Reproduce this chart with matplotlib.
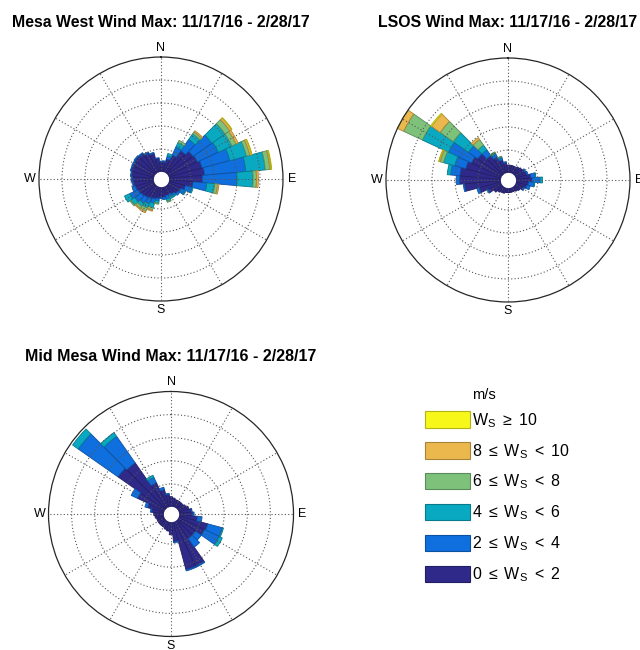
import matplotlib

matplotlib.use("Agg")

import matplotlib.pyplot as plt
import numpy as np
from matplotlib.colors import to_rgb
from matplotlib.patches import Patch

plt.rcParams["font.family"] = ["Liberation Sans", "DejaVu Sans"]
plt.rcParams["mathtext.fontset"] = "custom"
plt.rcParams["mathtext.rm"] = "Liberation Sans"
plt.rcParams["mathtext.it"] = "Liberation Sans"

# direction bins (deg, clockwise from north), 10 deg wide
DIRECTIONS = np.arange(0, 360, 10)

# frequency (%) per direction for each speed class, read off the roses
# Mesa West
mw_0_2 = [0.45, 0.45, 0.6, 0.85, 1.2, 1.4, 1.45, 1.55, 1.6, 1.5, 1.1, 0.8,
          0.65, 0.6, 0.5, 0.45, 0.45, 0.5, 0.5, 0.55, 0.6, 0.65, 0.7, 0.75,
          0.8, 0.85, 0.9, 0.95, 1.0, 1.05, 1.05, 1.08, 1.05, 0.95, 0.85, 0.6]
mw_2_4 = [0.03, 0.05, 0.15, 0.4, 0.6, 1.0, 1.0, 1.25, 1.8, 1.5, 0.6, 0.3,
          0.2, 0.1, 0.1, 0.1, 0.15, 0.1, 0.05, 0.1, 0.2, 0.25, 0.3, 0.35,
          0.4, 0.15, 0.05, 0.05, 0.03, 0.03, 0.05, 0.05, 0.05, 0.05, 0.05, 0.03]
mw_4_6 = [0, 0, 0.1, 0.2, 0.3, 0.7, 0.65, 0.75, 0.85, 0.7, 0.35, 0.05,
          0.05, 0, 0.05, 0.1, 0.1, 0, 0, 0.1, 0.2, 0.2, 0.15, 0.2,
          0.25, 0, 0, 0, 0, 0, 0, 0, 0, 0, 0, 0]
mw_6_8 = [0, 0, 0, 0.1, 0.1, 0.25, 0.2, 0.15, 0.2, 0.15, 0.12, 0,
          0, 0, 0, 0, 0.05, 0, 0, 0.05, 0.1, 0.15, 0.1, 0.05,
          0, 0, 0, 0, 0, 0, 0, 0, 0, 0, 0, 0]
mw_8_10 = [0, 0, 0, 0, 0.06, 0.1, 0.1, 0.08, 0.05, 0.08, 0.06, 0,
           0, 0, 0, 0, 0, 0, 0, 0, 0.05, 0.07, 0.05, 0,
           0, 0, 0, 0, 0, 0, 0, 0, 0, 0, 0, 0]
mw_10_up = [0, 0, 0, 0, 0, 0.02, 0, 0.02, 0.03, 0, 0, 0,
            0, 0, 0, 0, 0, 0, 0, 0, 0, 0, 0, 0,
            0, 0, 0, 0, 0, 0, 0, 0, 0, 0, 0, 0]

# LSOS
ls_0_2 = [0.35, 0.35, 0.35, 0.35, 0.4, 0.45, 0.5, 0.55, 0.7, 0.75, 0.6, 0.55,
          0.45, 0.35, 0.3, 0.25, 0.25, 0.25, 0.25, 0.25, 0.3, 0.3, 0.35, 0.45,
          0.65, 1.0, 1.6, 1.8, 1.8, 1.6, 1.45, 1.3, 1.0, 0.8, 0.6, 0.45]
ls_2_4 = [0, 0, 0, 0, 0, 0, 0.05, 0.05, 0.2, 0.35, 0.25, 0.15,
          0.05, 0, 0, 0, 0, 0, 0, 0, 0, 0, 0, 0,
          0.05, 0.1, 0.05, 0.15, 0.4, 0.5, 1.1, 0.5, 0.3, 0.15, 0.1, 0.05]
ls_4_6 = [0, 0, 0, 0, 0, 0, 0, 0, 0.02, 0.1, 0.02, 0,
          0, 0, 0, 0, 0, 0, 0, 0, 0, 0, 0, 0,
          0, 0, 0, 0, 0.15, 0.5, 1.25, 0.8, 0.25, 0.05, 0.05, 0]
ls_6_8 = [0, 0, 0, 0, 0, 0, 0, 0, 0, 0, 0, 0,
          0, 0, 0, 0, 0, 0, 0, 0, 0, 0, 0, 0,
          0, 0, 0, 0, 0, 0.15, 0.9, 0.7, 0.3, 0.05, 0.02, 0]
ls_8_10 = [0, 0, 0, 0, 0, 0, 0, 0, 0, 0, 0, 0,
           0, 0, 0, 0, 0, 0, 0, 0, 0, 0, 0, 0,
           0, 0, 0, 0, 0, 0.05, 0.3, 0.45, 0.1, 0, 0, 0]
ls_10_up = [0, 0, 0, 0, 0, 0, 0, 0, 0, 0, 0, 0,
            0, 0, 0, 0, 0, 0, 0, 0, 0, 0, 0, 0,
            0, 0, 0, 0, 0, 0.02, 0.03, 0.05, 0, 0, 0, 0]

# Mid Mesa
mm_0_2 = [0.45, 0.4, 0.35, 0.35, 0.35, 0.35, 0.4, 0.5, 0.6, 0.65, 0.85, 1.35,
          1.3, 1.0, 1.0, 2.2, 2.2, 0.9, 0.6, 0.45, 0.4, 0.35, 0.35, 0.35,
          0.35, 0.35, 0.4, 0.45, 0.55, 0.75, 1.3, 2.5, 2.4, 1.2, 0.8, 0.55]
mm_2_4 = [0, 0, 0, 0, 0, 0, 0, 0, 0.02, 0.05, 0.2, 0.65,
          0.7, 0.3, 0.45, 0.05, 0.05, 0.05, 0, 0, 0, 0, 0, 0,
          0, 0, 0, 0, 0.05, 0.12, 0.3, 2.1, 1.4, 0.25, 0.1, 0.05]
mm_4_6 = [0, 0, 0, 0, 0, 0, 0, 0, 0, 0, 0, 0.05,
          0.15, 0, 0, 0, 0, 0, 0, 0, 0, 0, 0, 0,
          0, 0, 0, 0, 0, 0, 0, 0.3, 0.2, 0.1, 0, 0]
mm_6_8 = [0] * 36
mm_8_10 = [0] * 36
mm_10_up = [0] * 36

SPEED_COLORS = ["#2f2a8a", "#106fde", "#0aa9c2", "#7dc17b", "#ebb84e", "#f7f81a"]
SPEED_LABELS = [
    r"$0\ \leq\ \mathrm{W_S}\ <\ 2$",
    r"$2\ \leq\ \mathrm{W_S}\ <\ 4$",
    r"$4\ \leq\ \mathrm{W_S}\ <\ 6$",
    r"$6\ \leq\ \mathrm{W_S}\ <\ 8$",
    r"$8\ \leq\ \mathrm{W_S}\ <\ 10$",
    r"$\mathrm{W_S}\ \geq\ 10$",
]

HOLE = 0.3      # empty centre, in % units
RING_STEP = 1.0
N_RINGS = 5


def darker(color, f=0.72):
    return tuple(np.array(to_rgb(color)) * f)


def draw_rose(ax, classes, title, title_size):
    theta = np.deg2rad(DIRECTIONS)
    width = np.deg2rad(10)
    bottom = np.full(len(DIRECTIONS), HOLE)
    for vals, color in zip(classes, SPEED_COLORS):
        vals = np.asarray(vals, dtype=float)
        m = vals > 0
        if m.any():
            ax.bar(theta[m], vals[m], width=width, bottom=bottom[m],
                   color=color, edgecolor=darker(color), linewidth=0.6,
                   align="center", zorder=1)
        bottom = bottom + vals

    ax.set_theta_zero_location("N")
    ax.set_theta_direction(-1)
    ax.set_ylim(0, HOLE + N_RINGS * RING_STEP)
    ax.set_rgrids(HOLE + RING_STEP * np.arange(1, N_RINGS), labels=[])
    ax.set_thetagrids(np.arange(0, 360, 30),
                      labels=["N", "", "", "E", "", "", "S", "", "", "W", "", ""],
                      fontsize=9)
    ax.tick_params(axis="x", pad=-4)
    ax.set_axisbelow(False)
    ax.grid(True, linestyle=(0, (1, 2)), color="#555555", linewidth=0.8)
    ring = np.linspace(0, 2 * np.pi, 300)
    ax.fill_between(ring, 0, HOLE, color="white", zorder=3)
    ax.spines["polar"].set_color("#262626")
    ax.spines["polar"].set_linewidth(0.9)
    ax.set_title(title, fontsize=title_size, fontweight="bold", y=1.125, pad=0)


fig = plt.figure(figsize=(6.4, 6.5), dpi=100)

ax1 = fig.add_axes([0.0609, 0.5369, 0.38125, 0.37538], projection="polar")
draw_rose(ax1, [mw_0_2, mw_2_4, mw_4_6, mw_6_8, mw_8_10, mw_10_up],
          "Mesa West Wind Max: 11/17/16 - 2/28/17", 11.4)

ax2 = fig.add_axes([0.6031, 0.5354, 0.38125, 0.37538], projection="polar")
draw_rose(ax2, [ls_0_2, ls_2_4, ls_4_6, ls_6_8, ls_8_10, ls_10_up],
          "LSOS Wind Max: 11/17/16 - 2/28/17", 11.4)

ax3 = fig.add_axes([0.0758, 0.0208, 0.3828, 0.3769], projection="polar")
draw_rose(ax3, [mm_0_2, mm_2_4, mm_4_6, mm_6_8, mm_8_10, mm_10_up],
          "Mid Mesa Wind Max: 11/17/16 - 2/28/17", 11.5)

handles = [Patch(facecolor=c, edgecolor=darker(c), linewidth=0.8) for c in SPEED_COLORS]
fig.legend(handles[::-1], SPEED_LABELS[::-1], loc="upper left",
           bbox_to_anchor=(425 / 640, 1 - 411 / 650), frameon=False,
           fontsize=11.5, handlelength=2.8, handleheight=1.2,
           handletextpad=0.12, labelspacing=0.76, borderpad=0, borderaxespad=0)
fig.text(472 / 640, 1 - 395 / 650, "m/s", fontsize=10.5, va="center", ha="left")

fig.savefig("out.png", dpi=100)
